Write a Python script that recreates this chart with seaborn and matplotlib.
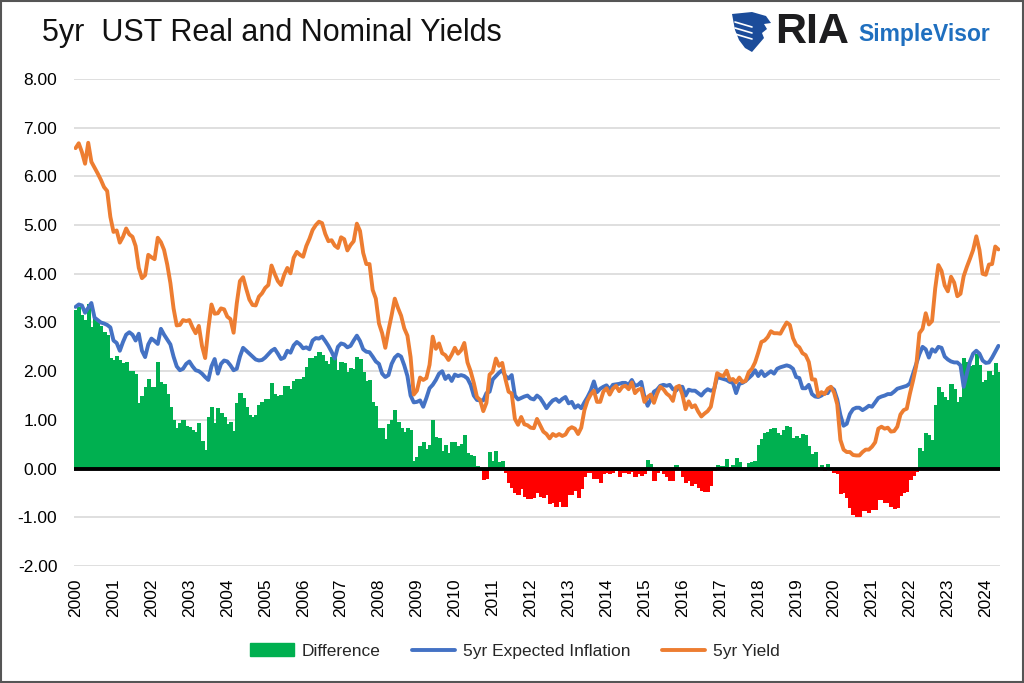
import numpy as np
import pandas as pd
import matplotlib
matplotlib.use("Agg")
import matplotlib.pyplot as plt
import seaborn as sns
from matplotlib.lines import Line2D
from matplotlib.patches import Patch, Rectangle, Polygon

# ---------------- data (monthly, Jan 2000 - May 2024) ----------------
year_labels = [str(y) for y in range(2000, 2025)]

yield_5yr = [
    # 2000
    6.58, 6.68, 6.50, 6.26, 6.69, 6.30, 6.18, 6.06, 5.93, 5.78, 5.70, 5.17,
    # 2001
    4.86, 4.89, 4.64, 4.76, 4.93, 4.81, 4.76, 4.57, 4.12, 3.91, 3.97, 4.39,
    # 2002
    4.34, 4.30, 4.74, 4.65, 4.49, 4.19, 3.81, 3.29, 2.94, 2.95, 3.05, 3.03,
    # 2003
    3.05, 2.90, 2.78, 2.93, 2.52, 2.27, 2.87, 3.37, 3.18, 3.19, 3.29, 3.27,
    # 2004
    3.12, 3.07, 2.79, 3.39, 3.85, 3.93, 3.69, 3.47, 3.36, 3.35, 3.53, 3.60,
    # 2005
    3.71, 3.77, 4.17, 4.00, 3.85, 3.77, 3.98, 4.12, 4.01, 4.33, 4.45, 4.39,
    # 2006
    4.35, 4.57, 4.72, 4.90, 5.00, 5.07, 5.04, 4.82, 4.67, 4.69, 4.58, 4.53,
    # 2007
    4.75, 4.71, 4.48, 4.59, 4.67, 5.03, 4.88, 4.43, 4.20, 4.20, 3.67, 3.49,
    # 2008
    2.98, 2.78, 2.48, 2.84, 3.15, 3.49, 3.30, 3.14, 2.88, 2.73, 2.29, 1.52,
    # 2009
    1.60, 1.87, 1.82, 1.86, 2.13, 2.71, 2.46, 2.57, 2.37, 2.33, 2.23, 2.34,
    # 2010
    2.48, 2.36, 2.43, 2.58, 2.18, 2.00, 1.76, 1.47, 1.41, 1.18, 1.35, 1.93,
    # 2011
    1.99, 2.26, 2.11, 2.17, 1.84, 1.58, 1.54, 1.02, 0.90, 1.06, 0.91, 0.89,
    # 2012
    0.84, 0.83, 1.02, 0.89, 0.76, 0.71, 0.62, 0.71, 0.67, 0.71, 0.67, 0.70,
    # 2013
    0.81, 0.85, 0.82, 0.71, 0.84, 1.20, 1.40, 1.52, 1.60, 1.37, 1.37, 1.58,
    # 2014
    1.65, 1.52, 1.64, 1.70, 1.59, 1.68, 1.70, 1.63, 1.77, 1.55, 1.62, 1.64,
    # 2015
    1.37, 1.47, 1.52, 1.35, 1.54, 1.68, 1.63, 1.54, 1.49, 1.39, 1.67, 1.70,
    # 2016
    1.52, 1.22, 1.38, 1.26, 1.30, 1.17, 1.07, 1.13, 1.18, 1.27, 1.60, 1.96,
    # 2017
    1.92, 1.90, 2.01, 1.82, 1.84, 1.77, 1.87, 1.78, 1.80, 1.98, 2.05, 2.18,
    # 2018
    2.38, 2.60, 2.63, 2.70, 2.82, 2.78, 2.78, 2.77, 2.89, 3.00, 2.95, 2.68,
    # 2019
    2.54, 2.49, 2.37, 2.33, 2.19, 1.83, 1.83, 1.49, 1.57, 1.53, 1.64, 1.68,
    # 2020
    1.56, 1.32, 0.59, 0.39, 0.34, 0.34, 0.28, 0.27, 0.27, 0.34, 0.39, 0.39,
    # 2021
    0.45, 0.54, 0.82, 0.86, 0.82, 0.84, 0.76, 0.77, 0.86, 1.11, 1.20, 1.23,
    # 2022
    1.54, 1.81, 2.11, 2.78, 2.87, 3.19, 2.96, 3.03, 3.70, 4.18, 4.06, 3.76,
    # 2023
    3.64, 3.94, 3.82, 3.54, 3.59, 3.95, 4.14, 4.31, 4.49, 4.77, 4.49, 4.00,
    # 2024
    3.98, 4.19, 4.20, 4.56, 4.50,
]

expected_inflation = [
    # 2000
    3.32, 3.37, 3.35, 3.20, 3.30, 3.40, 3.10, 3.05, 3.00, 2.98, 2.95, 2.90,
    # 2001
    2.63, 2.58, 2.42, 2.60, 2.75, 2.80, 2.75, 2.63, 2.77, 2.42, 2.29, 2.55,
    # 2002
    2.67, 2.62, 2.56, 2.87, 2.75, 2.65, 2.55, 2.30, 2.10, 2.02, 2.05, 2.15,
    # 2003
    2.20, 2.10, 2.02, 2.00, 1.95, 1.88, 1.82, 2.10, 2.25, 1.95, 2.15, 2.22,
    # 2004
    2.20, 2.12, 2.02, 2.05, 2.30, 2.48, 2.42, 2.36, 2.30, 2.24, 2.22, 2.23,
    # 2005
    2.28, 2.35, 2.42, 2.46, 2.36, 2.25, 2.28, 2.42, 2.38, 2.53, 2.60, 2.55,
    # 2006
    2.47, 2.49, 2.45, 2.63, 2.68, 2.67, 2.71, 2.62, 2.52, 2.40, 2.26, 2.50,
    # 2007
    2.57, 2.55, 2.49, 2.52, 2.63, 2.73, 2.62, 2.45, 2.40, 2.39, 2.30, 2.20,
    # 2008
    2.15, 1.95, 1.88, 1.92, 2.15, 2.28, 2.34, 2.30, 2.12, 1.90, 1.50, 1.36,
    # 2009
    1.37, 1.40, 1.27, 1.45, 1.65, 1.72, 1.82, 1.95, 2.00, 1.84, 1.91, 1.80,
    # 2010
    1.93, 1.90, 1.92, 1.90, 1.85, 1.72, 1.50, 1.41, 1.40, 1.40, 1.55, 1.58,
    # 2011
    1.83, 1.90, 1.97, 2.02, 1.90, 1.85, 1.92, 1.50, 1.42, 1.45, 1.48, 1.50,
    # 2012
    1.44, 1.42, 1.50, 1.45, 1.35, 1.24, 1.33, 1.40, 1.43, 1.37, 1.43, 1.47,
    # 2013
    1.34, 1.37, 1.25, 1.30, 1.24, 1.36, 1.47, 1.60, 1.79, 1.57, 1.64, 1.68,
    # 2014
    1.71, 1.62, 1.72, 1.73, 1.74, 1.76, 1.76, 1.72, 1.82, 1.70, 1.72, 1.78,
    # 2015
    1.47, 1.29, 1.42, 1.58, 1.62, 1.70, 1.72, 1.70, 1.72, 1.63, 1.60, 1.68,
    # 2016
    1.68, 1.50, 1.62, 1.60, 1.60, 1.55, 1.50, 1.58, 1.63, 1.60, 1.62, 1.88,
    # 2017
    1.86, 1.84, 1.82, 1.78, 1.76, 1.55, 1.74, 1.76, 1.80, 1.86, 1.92, 2.02,
    # 2018
    1.90, 2.00, 1.90, 1.95, 2.00, 1.95, 2.05, 2.08, 2.10, 2.12, 2.10, 2.05,
    # 2019
    1.88, 1.86, 1.65, 1.65, 1.72, 1.53, 1.48, 1.47, 1.50, 1.55, 1.55, 1.67,
    # 2020
    1.62, 1.42, 1.10, 0.88, 0.92, 1.12, 1.22, 1.25, 1.25, 1.20, 1.24, 1.29,
    # 2021
    1.27, 1.36, 1.45, 1.48, 1.50, 1.53, 1.53, 1.58, 1.64, 1.66, 1.68, 1.70,
    # 2022
    1.75, 1.95, 2.15, 2.35, 2.50, 2.45, 2.28, 2.45, 2.40, 2.50, 2.48, 2.30,
    # 2023
    2.24, 2.20, 2.18, 2.18, 2.12, 1.68, 1.95, 2.20, 2.36, 2.42, 2.36, 2.22,
    # 2024
    2.17, 2.18, 2.28, 2.40, 2.52,
]

# Difference = nominal yield minus expected inflation (the bar series)
difference = np.round(np.array(yield_5yr) - np.array(expected_inflation), 2)

n = len(yield_5yr)
month_idx = np.arange(n)
df = pd.DataFrame({
    "m": month_idx,
    "yield": yield_5yr,
    "infl": expected_inflation,
    "diff": difference,
})
df["sign"] = np.where(df["diff"] >= 0, "pos", "neg")

GREEN = "#00B050"
RED = "#FF0000"
BLUE = "#4472C4"
ORANGE = "#ED7D31"

# ---------------- style ----------------
sns.set_style("white")
plt.rcParams["font.family"] = ["Liberation Sans", "DejaVu Sans"]
plt.rcParams["axes.unicode_minus"] = False

W, H = 1024, 683
fig = plt.figure(figsize=(W / 100, H / 100), dpi=100)
fig.patch.set_facecolor("white")

ax_left, ax_right, ax_top, ax_bottom = 74, 1000, 79, 566
ax = fig.add_axes([ax_left / W, 1 - ax_bottom / H,
                   (ax_right - ax_left) / W, (ax_bottom - ax_top) / H])

# bars
sns.barplot(data=df, x="m", y="diff", hue="sign",
            palette={"pos": GREEN, "neg": RED},
            native_scale=True, width=1.0, dodge=False, saturation=1,
            errorbar=None, legend=False, linewidth=0, ax=ax, zorder=2)
for p in ax.patches:
    p.set_edgecolor(p.get_facecolor())
    p.set_linewidth(0.6)
    p.set_antialiased(False)

ax.axhline(0, color="black", lw=2.8, zorder=3)

# lines
sns.lineplot(data=df, x="m", y="infl", color=BLUE, lw=2.8, ax=ax,
             zorder=4, solid_joinstyle="round")
sns.lineplot(data=df, x="m", y="yield", color=ORANGE, lw=2.8, ax=ax,
             zorder=5, solid_joinstyle="round")

ax.set_xlim(-0.5, n - 0.5)
ax.set_ylim(-2, 8)
yt = np.arange(-2, 9, 1)
ax.set_yticks(yt)
ax.set_yticklabels([f"{v:.2f}" for v in yt], fontsize=12.5)
ax.set_xticks(np.arange(0, n, 12))
ax.set_xticklabels(year_labels, rotation=90, fontsize=12.5)
ax.tick_params(axis="both", length=0, colors="black")
ax.tick_params(axis="y", pad=12)
ax.tick_params(axis="x", pad=9)
ax.set_xlabel("")
ax.set_ylabel("")
ax.yaxis.grid(True, color="#D9D9D9", lw=1.2, zorder=0)
ax.xaxis.grid(False)
ax.set_axisbelow(True)
for s in ax.spines.values():
    s.set_visible(False)

# legend
handles = [
    Patch(facecolor=GREEN, edgecolor=GREEN, label="Difference"),
    Line2D([0], [0], color=BLUE, lw=2.8, label="5yr Expected Inflation"),
    Line2D([0], [0], color=ORANGE, lw=2.8, label="5yr Yield"),
]
fig.legend(handles=handles, loc="center", bbox_to_anchor=(515 / W, 1 - 651 / H),
           ncol=3, frameon=False, fontsize=12.5, handlelength=2.5,
           handleheight=0.8, handletextpad=0.45, columnspacing=1.8)

# title
fig.text(42 / W, 1 - 33 / H, "5yr  UST Real and Nominal Yields",
         fontsize=22, color="#111111", ha="left", va="center")

# logo
def px(x, y):
    return (x / W, 1 - y / H)

eagle = [(732, 14), (752, 12), (766, 16), (771, 23), (764, 24), (767, 29),
         (762, 33), (764, 38), (758, 45), (752, 52), (745, 48), (739, 40),
         (735, 30)]
fig.patches.append(Polygon([px(*p) for p in eagle], closed=True,
                           transform=fig.transFigure, facecolor="#1B4C9A",
                           edgecolor="none"))
for y0 in (22, 28, 34):
    fig.lines.append(Line2D([735 / W, 752 / W], [1 - y0 / H, 1 - (y0 + 5) / H],
                            transform=fig.transFigure, color="white", lw=1.2))
fig.text(775 / W, 1 - 32 / H, "RIA", fontsize=31, fontweight="bold",
         color="#1d1d1f", ha="left", va="center")
fig.text(858 / W, 1 - 35 / H, "SimpleVisor", fontsize=16.5, fontweight="bold",
         color="#1F6FBF", ha="left", va="center")

# outer frame
fig.patches.append(Rectangle((0.001, 0.001), 0.998, 0.998, transform=fig.transFigure,
                             fill=False, edgecolor="#555555", lw=1.5))

fig.savefig("out.png", dpi=100, facecolor="white")
